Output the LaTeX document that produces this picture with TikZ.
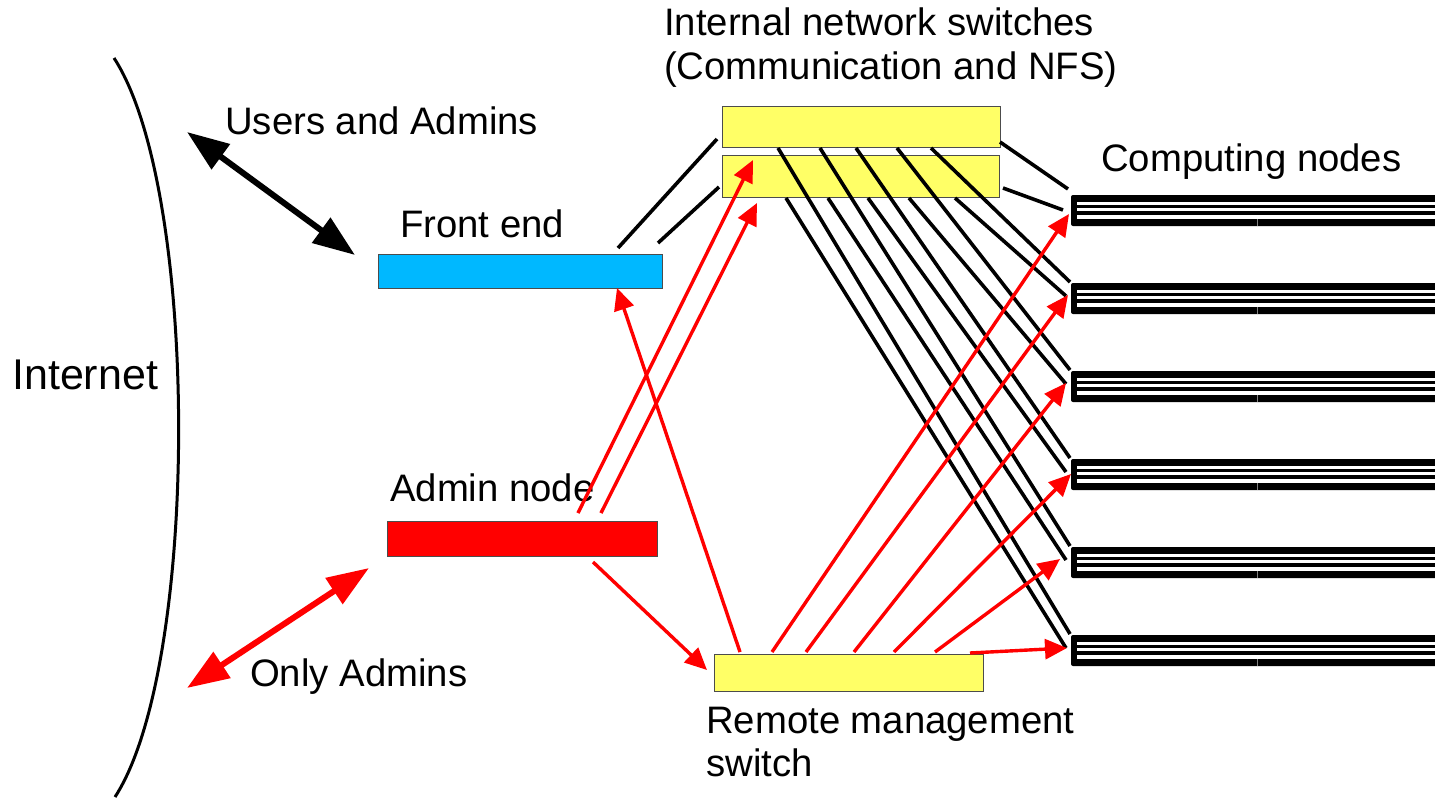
\documentclass[tikz,border=0pt]{standalone}
\usepackage{fontspec}
\setmainfont{Liberation Sans}
\usetikzlibrary{arrows.meta,calc}
\definecolor{swyellow}{HTML}{FFFF66}
\definecolor{fecyan}{HTML}{00B8FF}
\definecolor{anred}{HTML}{FF0000}
\begin{document}
\begin{tikzpicture}[x=1pt,y=-1pt,
  box/.style={draw=black!70,line width=1pt,inner sep=0pt,outer sep=0pt,anchor=north west},
  lbl/.style={anchor=base west,inner sep=0pt,font=\fontsize{38.3}{44}\selectfont},
  blkline/.style={draw=black,line width=3.6pt},
  redconn/.style={draw=anred,line width=3.4pt,-{Triangle[length=22pt,width=20pt]}},
  dbl/.style={line width=6pt,{Triangle[length=42pt,width=30pt]}-{Triangle[length=42pt,width=30pt]}},
  cnode/.style={fill=black,rounded corners=2pt,minimum width=380pt,minimum height=31pt,inner sep=0pt,outer sep=0pt,anchor=north west}
]
\useasboundingbox (0,0) rectangle (1435,801);

% Internet boundary
\draw[line width=3pt] (114,58) .. controls (200,190) and (200,666) .. (115,797);

% boxes
\node[box,fill=swyellow,minimum width=278pt,minimum height=41pt] (sw1) at (722,106) {};
\node[box,fill=swyellow,minimum width=277pt,minimum height=42pt] (sw2) at (722,155) {};
\node[box,fill=fecyan,minimum width=284pt,minimum height=34pt] (fe) at (378,254) {};
\node[box,fill=anred,minimum width=270pt,minimum height=35pt] (an) at (387,521) {};
\node[box,fill=swyellow,minimum width=269pt,minimum height=37pt] (rm) at (714,654) {};

% computing nodes
\foreach \i/\t in {1/195,2/283,3/371,4/459,5/547,6/635}{
  \node[cnode] (c\i) at (1071,\t) {};
  \fill[white] ($(c\i.north west)+(6,7)$) rectangle ($(c\i.north east)+(0,10)$);
  \fill[white] ($(c\i.north west)+(6,13)$) rectangle ($(c\i.north east)+(0,16)$);
  \fill[white] ($(c\i.north west)+(6,19.5)$) rectangle ($(c\i.north east)+(0,24)$);
  \draw[gray,line width=0.8pt] ($(c\i.north west)+(186,24)$) -- ($(c\i.north west)+(186,31)$);
}

% labels
\node[lbl] (tsw1) at (664,35) {Internal network switches};
\node[lbl] (tsw2) at (664,79) {(Communication and NFS)};
\node[lbl] (tusr) at (225,134) {Users and Admins};
\node[lbl] (tcn) at (1101,171) {Computing nodes};
\node[lbl] (tfe) at (400,237) {Front end};
\node[lbl,font=\fontsize{43}{48}\selectfont] (tin) at (12,389) {Internet};
\node[lbl] (tan) at (390,501) {Admin node};
\node[lbl] (tonly) at (250,686) {Only Admins};
\node[lbl] (trm1) at (706,733) {Remote management};
\node[lbl] (trm2) at (706,776) {switch};

% front end to switches
\draw[blkline] ($(fe.north west)+(240,-6)$) -- ($(sw1.west)+(-5,12.5)$);
\draw[blkline] ($(fe.north east)+(-4,-11)$) -- ($(sw2.west)+(-3,11)$);

% switches to computing node 1
\draw[blkline] ($(sw1.east)+(0,15.5)$) -- ($(c1.north west)+(-3,-6)$);
\draw[blkline] ($(sw2.east)+(4,12)$) -- ($(c1.north west)+(-8,15)$);

% switch 1 to computing nodes 2-6
\foreach \dx/\k in {209/2,175/3,134/4,98/5,56/6}{
  \draw[blkline] ($(sw1.south west)+(\dx,1)$) -- ($(c\k.north west)+(-1,-1)$);
}
% switch 2 to computing nodes 2-6
\foreach \dx/\k in {233/2,187/3,146/4,106/5,64/6}{
  \draw[blkline] ($(sw2.south west)+(\dx,1)$) -- ($(c\k.north west)+(-5,13)$);
}

% admin node to switches
\draw[redconn] ($(an.north west)+(191,-8)$) -- ($(sw2.north west)+(31,5)$);
\draw[redconn] ($(an.north west)+(214,-8)$) -- ($(sw2.south west)+(35,6)$);
% admin node to remote management switch
\draw[redconn] ($(an.south west)+(206,6)$) -- ($(rm.north west)+(-7,16)$);
% remote management to front end
\draw[redconn] ($(rm.north west)+(26,-2)$) -- ($(fe.south west)+(239,0)$);
% remote management to computing nodes
\draw[redconn] ($(rm.north west)+(58,-2)$) -- ($(c1.north west)+(-2,19)$);
\draw[redconn] ($(rm.north west)+(92,-2)$) -- ($(c2.north west)+(-3,12)$);
\draw[redconn] ($(rm.north west)+(140,-2)$) -- ($(c3.north west)+(-5,12)$);
\draw[redconn] ($(rm.north west)+(180,-2)$) -- ($(c4.north west)+(0,15)$);
\draw[redconn] ($(rm.north west)+(221,-2)$) -- ($(c5.north west)+(-11,12)$);
\draw[redconn] ($(rm.north west)+(256,-1)$) -- ($(c6.north west)+(-4,13)$);

% double arrows
\coordinate (ua) at (187,132);
\coordinate (oa) at (187,688);
\draw[dbl,black] (ua) -- ($(fe.north west)+(-23,1)$);
\draw[dbl,anred] (oa) -- ($(an.south west)+(-18,12)$);
\end{tikzpicture}
\end{document}
